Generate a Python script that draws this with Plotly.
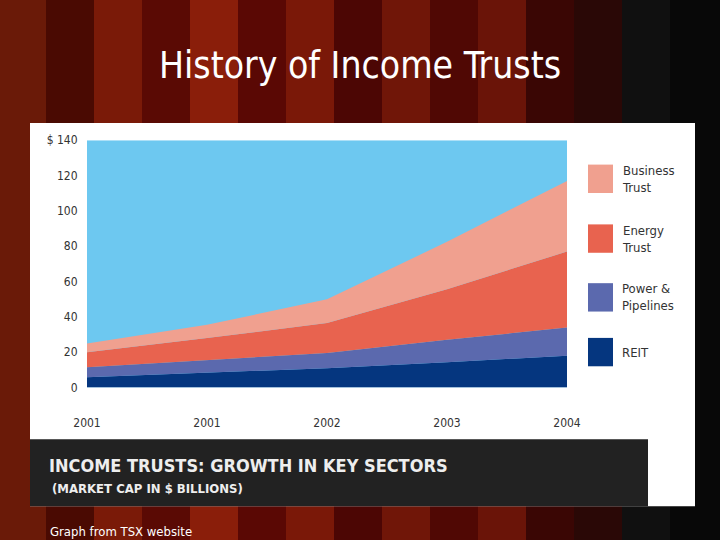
import plotly.graph_objects as go

# data (stacked values, $ billions)
tick_labels = ['2001', '2001', '2002', '2003', '2004']
reit = [5.8, 8.6, 11.0, 14.4, 18.0]
power = [5.7, 7.1, 8.6, 12.6, 16.0]
energy = [8.5, 12.3, 16.9, 28.7, 43.0]
business = [5.0, 7.5, 13.5, 26.8, 40.0]
series = [('REIT', reit, '#05367f'), ('Power & Pipelines', power, '#5b69ae'),
          ('Energy Trust', energy, '#e8634f'), ('Business Trust', business, '#f0a08f')]
xs = list(range(len(tick_labels)))

W, H = 720, 540
# the drawing area ends up inset from the window, so map window pixels into it
X0, XW, Y0, YH = 14, 692, 10.5, 519
def px(x): return (x - X0) / XW
def py(y): return 1 - (y - Y0) / YH

fig = go.Figure()
for name, vals, col in series:
    fig.add_trace(go.Scatter(x=xs, y=vals, name=name, stackgroup='one', mode='lines',
                             line=dict(width=0, color=col), fillcolor=col))

shapes = []
# curtain background stripes
stripes = ['#6a1a08', '#4a0a02', '#7a1a08', '#5a0a04', '#8a1e0a', '#5a0804', '#7a1808',
           '#4c0604', '#701608', '#500804', '#6a1408', '#3a0604', '#2a0806', '#101010', '#080808']
sw = W / len(stripes)
for i, c in enumerate(stripes):
    shapes.append(dict(type='rect', xref='paper', yref='paper', x0=px(i * sw - 2), x1=px((i + 1) * sw + 2),
                       y0=py(H + 5), y1=py(-5), fillcolor=c, line_width=0, layer='below'))
# white chart panel and dark caption band
shapes.append(dict(type='rect', xref='paper', yref='paper', x0=px(30), x1=px(695), y0=py(503), y1=py(125),
                   fillcolor='white', line_width=0, layer='below'))
shapes.append(dict(type='rect', xref='paper', yref='paper', x0=px(30), x1=px(648), y0=py(503), y1=py(437),
                   fillcolor='#222222', line_width=0, layer='below'))
# sky-blue plot background
shapes.append(dict(type='rect', xref='x', yref='y', x0=0, x1=4, y0=0, y1=140,
                   fillcolor='#6dc8f0', line_width=0, layer='below'))

annotations = []
# legend boxes
legend_rows = [('Business<br>Trust', '#f0a08f', 180),
               ('Energy<br>Trust', '#e8634f', 239),
               ('Power &amp;<br>Pipelines', '#5b69ae', 297),
               ('REIT', '#05367f', 351)]
for label, col, cy in legend_rows:
    shapes.append(dict(type='rect', xref='paper', yref='paper', x0=px(588), x1=px(613),
                       y0=py(cy + 14), y1=py(cy - 14), fillcolor=col, line_width=0))
    annotations.append(dict(x=px(620), y=py(cy), xref='paper', yref='paper', text=label,
                            showarrow=False, xanchor='left', yanchor='middle', align='left',
                            font=dict(family='DejaVu Sans Condensed', size=13, color='#333333')))

annotations += [
    dict(x=px(360), y=py(68), xref='paper', yref='paper', text='History of Income Trusts', showarrow=False,
         yanchor='middle', font=dict(family='DejaVu Sans Condensed', size=37, color='white')),
    dict(x=px(47), y=py(463), xref='paper', yref='paper', text='<b>INCOME TRUSTS: GROWTH IN KEY SECTORS</b>',
         showarrow=False, xanchor='left', yanchor='middle',
         font=dict(family='DejaVu Sans Condensed', size=18, color='#eeeeee')),
    dict(x=px(50), y=py(486), xref='paper', yref='paper', text='<b>(MARKET CAP IN $ BILLIONS)</b>',
         showarrow=False, xanchor='left', yanchor='middle',
         font=dict(family='DejaVu Sans Condensed', size=13, color='#eeeeee')),
    dict(x=px(48), y=py(528), xref='paper', yref='paper', text='Graph from TSX website',
         showarrow=False, xanchor='left', yanchor='middle',
         font=dict(family='DejaVu Sans Condensed', size=13, color='white')),
]

fig.update_layout(
    width=W, height=H, margin=dict(l=0, r=0, t=0, b=0),
    paper_bgcolor='#4a0a04', showlegend=False,
    shapes=shapes, annotations=annotations,
    xaxis=dict(domain=[px(87), px(567)], range=[0, 4], tickvals=xs, ticktext=tick_labels,
               showgrid=False, zeroline=False, ticks='outside', ticklen=24, tickcolor='rgba(0,0,0,0)',
               tickfont=dict(family='DejaVu Sans Condensed', size=12, color='#333333')),
    yaxis=dict(domain=[py(386), py(142)], range=[0, 140], tickvals=[0, 20, 40, 60, 80, 100, 120, 140],
               ticktext=['0', '20', '40', '60', '80', '100', '120', '$ 140'],
               showgrid=False, zeroline=False, ticks='outside', ticklen=6, tickcolor='rgba(0,0,0,0)',
               tickfont=dict(family='DejaVu Sans Condensed', size=12, color='#333333')),
)
fig.write_html('out.html', config={'displayModeBar': False},
               post_script="document.body.style.margin='0';document.body.style.overflow='hidden';")
